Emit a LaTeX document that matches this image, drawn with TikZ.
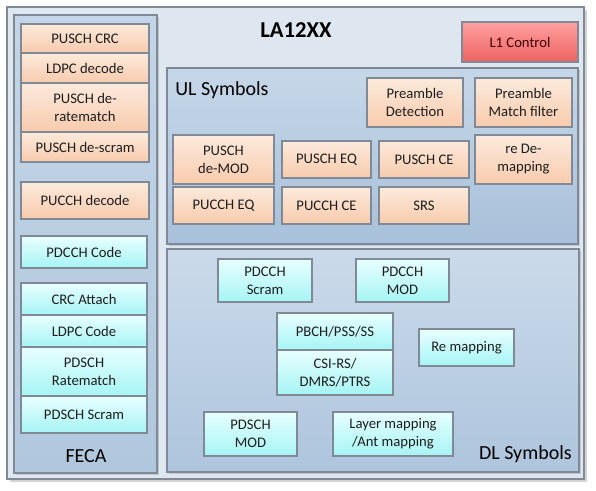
\documentclass[tikz,border=0pt]{standalone}
\usepackage{fontspec}
\setmainfont{Carlito}
\usetikzlibrary{shadows}
\definecolor{bordc}{HTML}{7F8A96}
\definecolor{outerc}{HTML}{DEE7F0}
\definecolor{fecaT}{HTML}{C3D5E7}
\definecolor{fecaB}{HTML}{B1C7DD}
\definecolor{ulT}{HTML}{C6D7E8}
\definecolor{ulB}{HTML}{A8C0DA}
\definecolor{dlT}{HTML}{CBDAEA}
\definecolor{dlB}{HTML}{AEC5DD}
\definecolor{peachT}{HTML}{FCEADC}
\definecolor{peachB}{HTML}{F8CBAD}
\definecolor{cyanT}{HTML}{E8FFFF}
\definecolor{cyanB}{HTML}{A6F4F4}
\definecolor{redT}{HTML}{FFA0A0}
\definecolor{redB}{HTML}{EE6262}
\definecolor{txtc}{HTML}{1E1E1E}
\tikzset{
  base/.style={draw=bordc, line width=0.9pt, rectangle, anchor=north west, outer sep=0pt, inner sep=1pt,
    align=center, font=\fontsize{11}{13.5}\selectfont, text=txtc},
  outerbox/.style={base, fill=outerc, line width=1pt, drop shadow={shadow xshift=2pt, shadow yshift=-2pt, opacity=0.35, fill=gray}},
  fecabox/.style={base, top color=fecaT, bottom color=fecaB, drop shadow={shadow xshift=1.2pt, shadow yshift=-1.2pt, opacity=0.3, fill=gray}},
  ulbox/.style={base, top color=ulT, bottom color=ulB, drop shadow={shadow xshift=1.2pt, shadow yshift=-1.2pt, opacity=0.3, fill=gray}},
  dlbox/.style={base, top color=dlT, bottom color=dlB, drop shadow={shadow xshift=1.2pt, shadow yshift=-1.2pt, opacity=0.3, fill=gray}},
  peach/.style={base, top color=peachT, bottom color=peachB},
  cyanbox/.style={base, top color=cyanT, bottom color=cyanB},
  redbox/.style={base, top color=redT, bottom color=redB, text={black!75!red}},
  biglabel/.style={font=\fontsize{15}{18}\selectfont, text=black, inner sep=0pt},
}
\newcommand{\bx}[7]{%
  \node[#6, minimum width={(#4-#2)*0.75pt}, minimum height={(#5-#3)*0.75pt}] (#1) at (#2,#3) {#7};}
\begin{document}
\begin{tikzpicture}[x=0.75pt, y=-0.75pt]
\useasboundingbox (0,0) rectangle (596,491);
% outer
\bx{outer}{7}{7}{584}{479}{outerbox}{}
\node[font=\fontsize{17}{20}\selectfont\bfseries, inner sep=0pt] (title) at (296,30) {LA12XX};
\bx{l1}{462}{22}{578}{62}{redbox}{L1 Control}
% FECA
\bx{feca}{14}{15}{157}{473}{fecabox}{}
\node[biglabel] (fecalbl) at (86,456) {FECA};
\bx{puschcrc}{21}{24}{149}{53}{peach}{PUSCH CRC}
\bx{ldpcdec}{21}{53}{149}{83}{peach}{LDPC decode}
\bx{derate}{21}{83}{149}{132}{peach}{PUSCH de-\\ratematch}
\bx{descram}{21}{132}{149}{162}{peach}{PUSCH de-scram}
\bx{pucchdec}{21}{182}{149}{219}{peach}{PUCCH decode}
\bx{pdcchcode}{21}{236}{147}{268}{cyanbox}{PDCCH Code}
\bx{crcatt}{21}{283}{147}{315}{cyanbox}{CRC Attach}
\bx{ldpccode}{21}{315}{147}{347}{cyanbox}{LDPC Code}
\bx{pdschrm}{21}{347}{147}{396}{cyanbox}{PDSCH\\Ratematch}
\bx{pdschscr}{21}{396}{147}{433}{cyanbox}{PDSCH Scram}
% UL
\bx{ul}{167}{68}{578}{244}{ulbox}{}
\node[biglabel, anchor=west] (ullbl) at (175,90) {UL Symbols};
\bx{predet}{367}{78}{463}{127}{peach}{Preamble\\Detection}
\bx{prematch}{475}{78}{572}{127}{peach}{Preamble\\Match filter}
\bx{demod}{173}{135}{274}{184}{peach}{PUSCH\\de-MOD}
\bx{puscheq}{282}{141}{371}{178}{peach}{PUSCH EQ}
\bx{pusche}{379}{141}{469}{178}{peach}{PUSCH CE}
\bx{redemap}{475}{135}{572}{184}{peach}{re De-\\mapping}
\bx{puccheq}{173}{187}{274}{224}{peach}{PUCCH EQ}
\bx{pucchce}{282}{187}{371}{224}{peach}{PUCCH CE}
\bx{srs}{379}{187}{469}{224}{peach}{SRS}
% DL
\bx{dl}{167}{249}{579}{472}{dlbox}{}
\node[biglabel, anchor=east] (dllbl) at (572,454) {DL Symbols};
\bx{pdcchscr}{218}{259}{312}{302}{cyanbox}{PDCCH\\Scram}
\bx{pdcchmod}{356}{259}{449}{302}{cyanbox}{PDCCH\\MOD}
\bx{pbch}{277}{313}{393}{350}{cyanbox}{PBCH/PSS/SS}
\bx{csirs}{277}{350}{393}{395}{cyanbox}{CSI-RS/\\DMRS/PTRS}
\bx{remap}{419}{329}{514}{366}{cyanbox}{Re mapping}
\bx{pdschmod}{204}{412}{297}{456}{cyanbox}{PDSCH\\MOD}
\bx{layermap}{333}{412}{453}{456}{cyanbox}{Layer mapping\\/Ant mapping}
\end{tikzpicture}
\end{document}
